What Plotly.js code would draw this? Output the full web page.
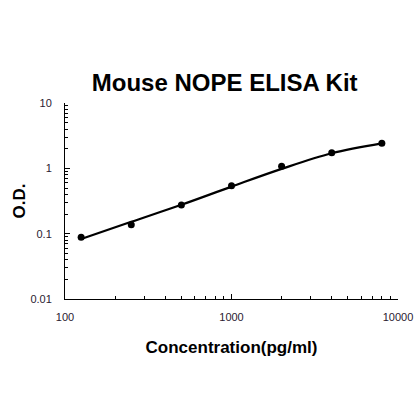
<!DOCTYPE html>
<html><head><meta charset="utf-8">
<script src="https://cdn.plot.ly/plotly-3.0.1.min.js"></script>
<style>html,body{margin:0;padding:0;background:#fff}#chart{width:420px;height:420px}</style>
</head><body><div id="chart"></div>
<script>
const concentration = [125, 250, 500, 1000, 2000, 4000, 8000];
const od = [0.088, 0.137, 0.274, 0.542, 1.08, 1.73, 2.41];
const fitOd = [0.083, 0.152, 0.277, 0.525, 0.98, 1.70, 2.41];
const xTickVals = [100, 1000, 10000];
const xTickText = ['100', '1000', '10000'];
const yTickVals = [0.01, 0.1, 1, 10];
const yTickText = ['0.01', '0.1', '1', '10'];
const multipliers = [2, 3, 4, 5, 6, 7, 8, 9];
const xMinor = [];
[100, 1000].forEach(d => multipliers.forEach(m => xMinor.push(d * m)));
const yMinor = [];
[0.01, 0.1, 1].forEach(d => multipliers.forEach(m => yMinor.push(d * m)));

const tickFont = {family: 'Liberation Sans, Arial, sans-serif', size: 11, color: '#2a2030'};
const titleFont = {family: 'Liberation Sans, Arial, sans-serif', size: 17, color: '#000'};

Plotly.newPlot('chart', [
  {x: concentration, y: fitOd, mode: 'lines', line: {color: '#000', width: 2.2, shape: 'spline'}, hoverinfo: 'skip'},
  {x: concentration, y: od, mode: 'markers', marker: {color: '#000', size: 7}}
], {
  width: 420, height: 420,
  margin: {l: 65, r: 22, t: 103, b: 121},
  paper_bgcolor: '#fff', plot_bgcolor: '#fff',
  showlegend: false,
  title: {text: '<b>Mouse NOPE ELISA Kit</b>', font: {family: 'Liberation Sans, Arial, sans-serif', size: 24, color: '#000'}, x: 0.535, xanchor: 'center', y: 0.803, yanchor: 'middle', yref: 'container'},
  xaxis: {type: 'log', range: [2, 4], tickmode: 'array', tickvals: xTickVals, ticktext: xTickText,
    ticks: 'inside', ticklen: 5, tickcolor: '#000', showline: true, linecolor: '#000', linewidth: 1,
    showgrid: false, zeroline: false, tickfont: tickFont, ticklabelstandoff: 8,
    minor: {tickmode: 'array', tickvals: xMinor, ticks: 'inside', ticklen: 3, tickcolor: '#000', showgrid: false},
    title: {text: '<b>Concentration(pg/ml)</b>', font: titleFont, standoff: 18}},
  yaxis: {type: 'log', range: [-2, 1], tickmode: 'array', tickvals: yTickVals, ticktext: yTickText,
    ticks: 'inside', ticklen: 5, tickcolor: '#000', showline: true, linecolor: '#000', linewidth: 1,
    showgrid: false, zeroline: false, tickfont: tickFont, ticklabelstandoff: 10,
    minor: {tickmode: 'array', tickvals: yMinor, ticks: 'inside', ticklen: 3, tickcolor: '#000', showgrid: false},
    title: {text: '<b>O.D.</b>', font: titleFont, standoff: 0}}
}, {displayModeBar: false, staticPlot: true});
</script></body></html>
